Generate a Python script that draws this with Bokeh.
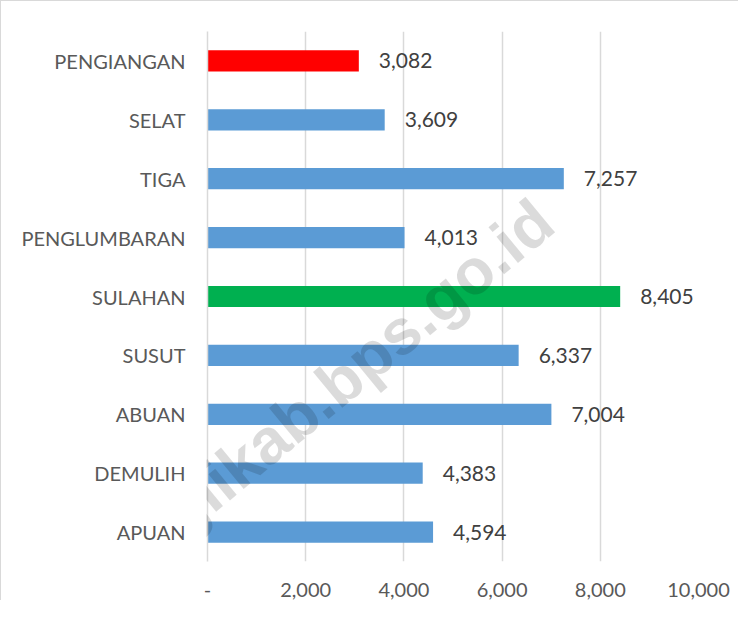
from bokeh.plotting import figure
from bokeh.models import ColumnDataSource, FixedTicker, Label
from bokeh.layouts import column
from bokeh.core.properties import value
from bokeh.embed import file_html
from bokeh.resources import INLINE

# ---- data ----
villages = ["APUAN", "DEMULIH", "ABUAN", "SUSUT", "SULAHAN",
            "PENGLUMBARAN", "TIGA", "SELAT", "PENGIANGAN"]
population = [4594, 4383, 7004, 6337, 8405, 4013, 7257, 3609, 3082]
tick_values = [0, 2000, 4000, 6000, 8000, 10000]
tick_labels = ["-", "2,000", "4,000", "6,000", "8,000", "10,000"]

BLUE, RED, GREEN = "#5B9BD5", "#FF0000", "#00B050"
vmax, vmin = max(population), min(population)
colors = [GREEN if v == vmax else RED if v == vmin else BLUE for v in population]
labels = [f"{v:,}" for v in population]

src = ColumnDataSource(dict(y=villages, x=population, c=colors, t=labels))

p = figure(y_range=villages, x_range=(0, 10000),
           frame_width=490, frame_height=529,
           min_border_left=206, min_border_right=41,
           min_border_top=30, min_border_bottom=40,
           output_backend="svg", toolbar_location=None,
           background_fill_color="white", border_fill_color="white")
p.outline_line_color = None
p.styles = {"border-left": "1px solid #d9d9d9", "border-top": "1px solid #d9d9d9"}

p.hbar(y="y", right="x", left=0, height=0.36, fill_color="c", line_color=None, source=src)
p.text(x="x", y="y", text="t", x_offset=20, text_align="left", text_baseline="middle",
       text_font=value("Lato"), text_font_size="21px", text_color="#404040", source=src)

# axes
p.xaxis.ticker = FixedTicker(ticks=tick_values)
p.xaxis.major_label_overrides = {t: l for t, l in zip(tick_values, tick_labels)}
p.xaxis.axis_line_color = None
p.xaxis.major_tick_line_color = None
p.xaxis.minor_tick_line_color = None
p.xaxis.major_tick_out = 0
p.xaxis.major_label_standoff = 21
for ax in (p.xaxis, p.yaxis):
    ax.major_label_text_font = "Lato"
    ax.major_label_text_font_size = "20px"
    ax.major_label_text_color = "#595959"
p.yaxis.axis_line_color = "#d9d9d9"
p.yaxis.axis_line_width = 1.5
p.yaxis.major_tick_line_color = None
p.yaxis.minor_tick_line_color = None
p.yaxis.major_tick_out = 0
p.yaxis.major_label_standoff = 22

p.xgrid.grid_line_color = "#d9d9d9"
p.xgrid.grid_line_width = 1.5
p.ygrid.grid_line_color = None

# transparent overlay figure carrying the watermark across the whole chart
W, H = 738, 600
ov = figure(width=W, height=H, x_range=(0, W), y_range=(0, H), min_border=0,
            x_axis_type=None, y_axis_type=None,
            output_backend="svg", toolbar_location=None)
ov.grid.visible = False
ov.outline_line_color = None
ov.background_fill_alpha = 0
ov.border_fill_alpha = 0
ov.styles = {"position": "absolute", "top": "0px", "left": "0px",
             "pointer-events": "none", "z-index": "10"}
ov.add_layout(Label(x=508, y=H - 212, text="banglikab.bps.go.id", angle=39.5, angle_units="deg",
                    text_align="right", text_baseline="alphabetic", text_font="Liberation Sans",
                    text_font_style="bold", text_font_size="64px", text_color="black",
                    text_alpha=0.14))

layout = column(ov, p, styles={"position": "relative"})

open("out.html", "w").write(file_html(layout, INLINE))
